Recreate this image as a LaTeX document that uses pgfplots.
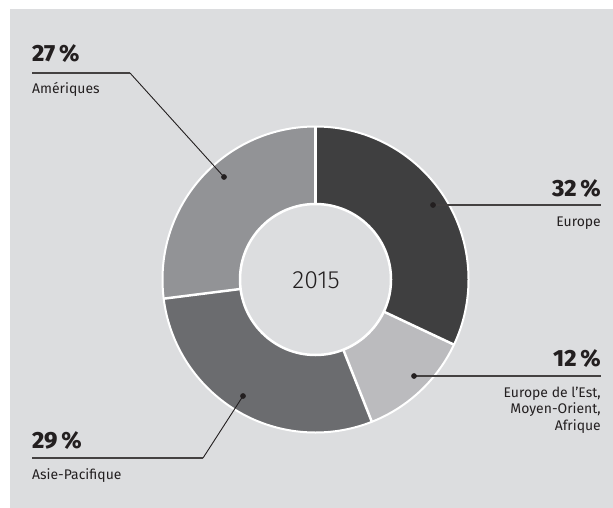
\documentclass[border=0pt]{standalone}
\usepackage{fontspec}
\setmainfont{Fira Sans}
\newfontfamily\lightfont{Fira Sans Light}
\newfontfamily\heavyfont{Fira Sans ExtraBold}
\usepackage{pgfplots}
\usepackage{pgfplotstable}
\pgfplotsset{compat=1.18}
\definecolor{bg}{HTML}{DCDDDF}
\definecolor{cEu}{HTML}{3F3F40}
\definecolor{cEE}{HTML}{BBBBBE}
\definecolor{cAs}{HTML}{6B6C6F}
\definecolor{cAm}{HTML}{929396}
\definecolor{txt}{HTML}{231F20}
\pgfplotstableread{
region value
Europe 32
EEMEA 12
AsiePacifique 29
Ameriques 27
}\shares
\begin{document}
\begin{tikzpicture}
\pgfplotstablegetelem{0}{value}\of\shares \pgfmathsetmacro\vA{\pgfplotsretval}
\pgfplotstablegetelem{1}{value}\of\shares \pgfmathsetmacro\vB{\pgfplotsretval}
\pgfplotstablegetelem{2}{value}\of\shares \pgfmathsetmacro\vC{\pgfplotsretval}
\pgfplotstablegetelem{3}{value}\of\shares \pgfmathsetmacro\vD{\pgfplotsretval}
\pgfmathsetmacro\aA{90}
\pgfmathsetmacro\aB{\aA-3.6*\vA}
\pgfmathsetmacro\aC{\aB-3.6*\vB}
\pgfmathsetmacro\aD{\aC-3.6*\vC}
\pgfmathsetmacro\aE{\aD-3.6*\vD}
\begin{axis}[width=613bp,height=508bp,scale only axis,
  xmin=0,xmax=613,ymin=0,ymax=508,y dir=reverse,
  hide axis, clip=false]
\fill[white] (axis cs:0,0) rectangle (axis cs:613,508);
\fill[bg] (axis cs:10,9) rectangle (axis cs:613,508);
% slices
\fill[cEu] (axis cs:315.5,279.5) -- ++(\aA:153bp) arc[start angle=\aA, end angle=\aB, radius=153bp] -- cycle;
\fill[cEE] (axis cs:315.5,279.5) -- ++(\aB:153bp) arc[start angle=\aB, end angle=\aC, radius=153bp] -- cycle;
\fill[cAs] (axis cs:315.5,279.5) -- ++(\aC:153bp) arc[start angle=\aC, end angle=\aD, radius=153bp] -- cycle;
\fill[cAm] (axis cs:315.5,279.5) -- ++(\aD:153bp) arc[start angle=\aD, end angle=\aE, radius=153bp] -- cycle;
\draw[white,line width=2.5bp] (axis cs:315.5,279.5) -- ++(\aA:153bp);
\draw[white,line width=2.5bp] (axis cs:315.5,279.5) -- ++(\aB:153bp);
\draw[white,line width=2.5bp] (axis cs:315.5,279.5) -- ++(\aC:153bp);
\draw[white,line width=2.5bp] (axis cs:315.5,279.5) -- ++(\aD:153bp);
\draw[white,line width=2bp] (axis cs:315.5,279.5) circle[radius=153bp];
\filldraw[fill=bg,draw=white,line width=2.5bp] (axis cs:315.5,279.5) circle[radius=75.5bp];
\node[text=txt,font=\lightfont\fontsize{25}{25}\selectfont] at (axis cs:316,280) {2015};
% leader lines
\addplot[draw=txt,line width=0.9bp,no marks] coordinates {(224,177) (130,73)};
\addplot[draw=txt!85,line width=1.2bp,no marks] coordinates {(130,73) (32,73)};
\addplot[draw=txt!85,line width=1.2bp,no marks] coordinates {(433,205) (601,205)};
\addplot[draw=txt!85,line width=1.2bp,no marks] coordinates {(414,376) (601,376)};
\addplot[draw=txt,line width=0.9bp,no marks] coordinates {(243,396) (203,458)};
\addplot[draw=txt!85,line width=1.2bp,no marks] coordinates {(203,458) (32,458)};
\addplot[only marks,mark=*,mark size=2.6bp,color=txt] coordinates {(224,177) (433,205) (414,376) (243,396)};
% labels
\node[anchor=base west,inner sep=0,text=txt,font=\heavyfont\fontsize{23.5}{24}\selectfont] at (axis cs:32,62) {27\,\%};
\node[anchor=base west,inner sep=0,text=txt,font=\fontsize{14}{16.5}\selectfont] at (axis cs:32,93) {Amériques};
\node[anchor=base east,inner sep=0,text=txt,font=\heavyfont\fontsize{23.5}{24}\selectfont] at (axis cs:601,196) {32\,\%};
\node[anchor=base east,inner sep=0,text=txt,font=\fontsize{14}{16.5}\selectfont] at (axis cs:601,226) {Europe};
\node[anchor=base east,inner sep=0,text=txt,font=\heavyfont\fontsize{23.5}{24}\selectfont] at (axis cs:601,366) {12\,\%};
\node[anchor=base east,inner sep=0,text=txt,font=\fontsize{14}{16.5}\selectfont] at (axis cs:601,397) {Europe de l’Est,};
\node[anchor=base east,inner sep=0,text=txt,font=\fontsize{14}{16.5}\selectfont] at (axis cs:601,413.5) {Moyen-Orient,};
\node[anchor=base east,inner sep=0,text=txt,font=\fontsize{14}{16.5}\selectfont] at (axis cs:601,430) {Afrique};
\node[anchor=base west,inner sep=0,text=txt,font=\heavyfont\fontsize{23.5}{24}\selectfont] at (axis cs:32,448) {29\,\%};
\node[anchor=base west,inner sep=0,text=txt,font=\fontsize{14}{16.5}\selectfont] at (axis cs:32,479) {Asie-Pacifique};
\end{axis}
\end{tikzpicture}
\end{document}
